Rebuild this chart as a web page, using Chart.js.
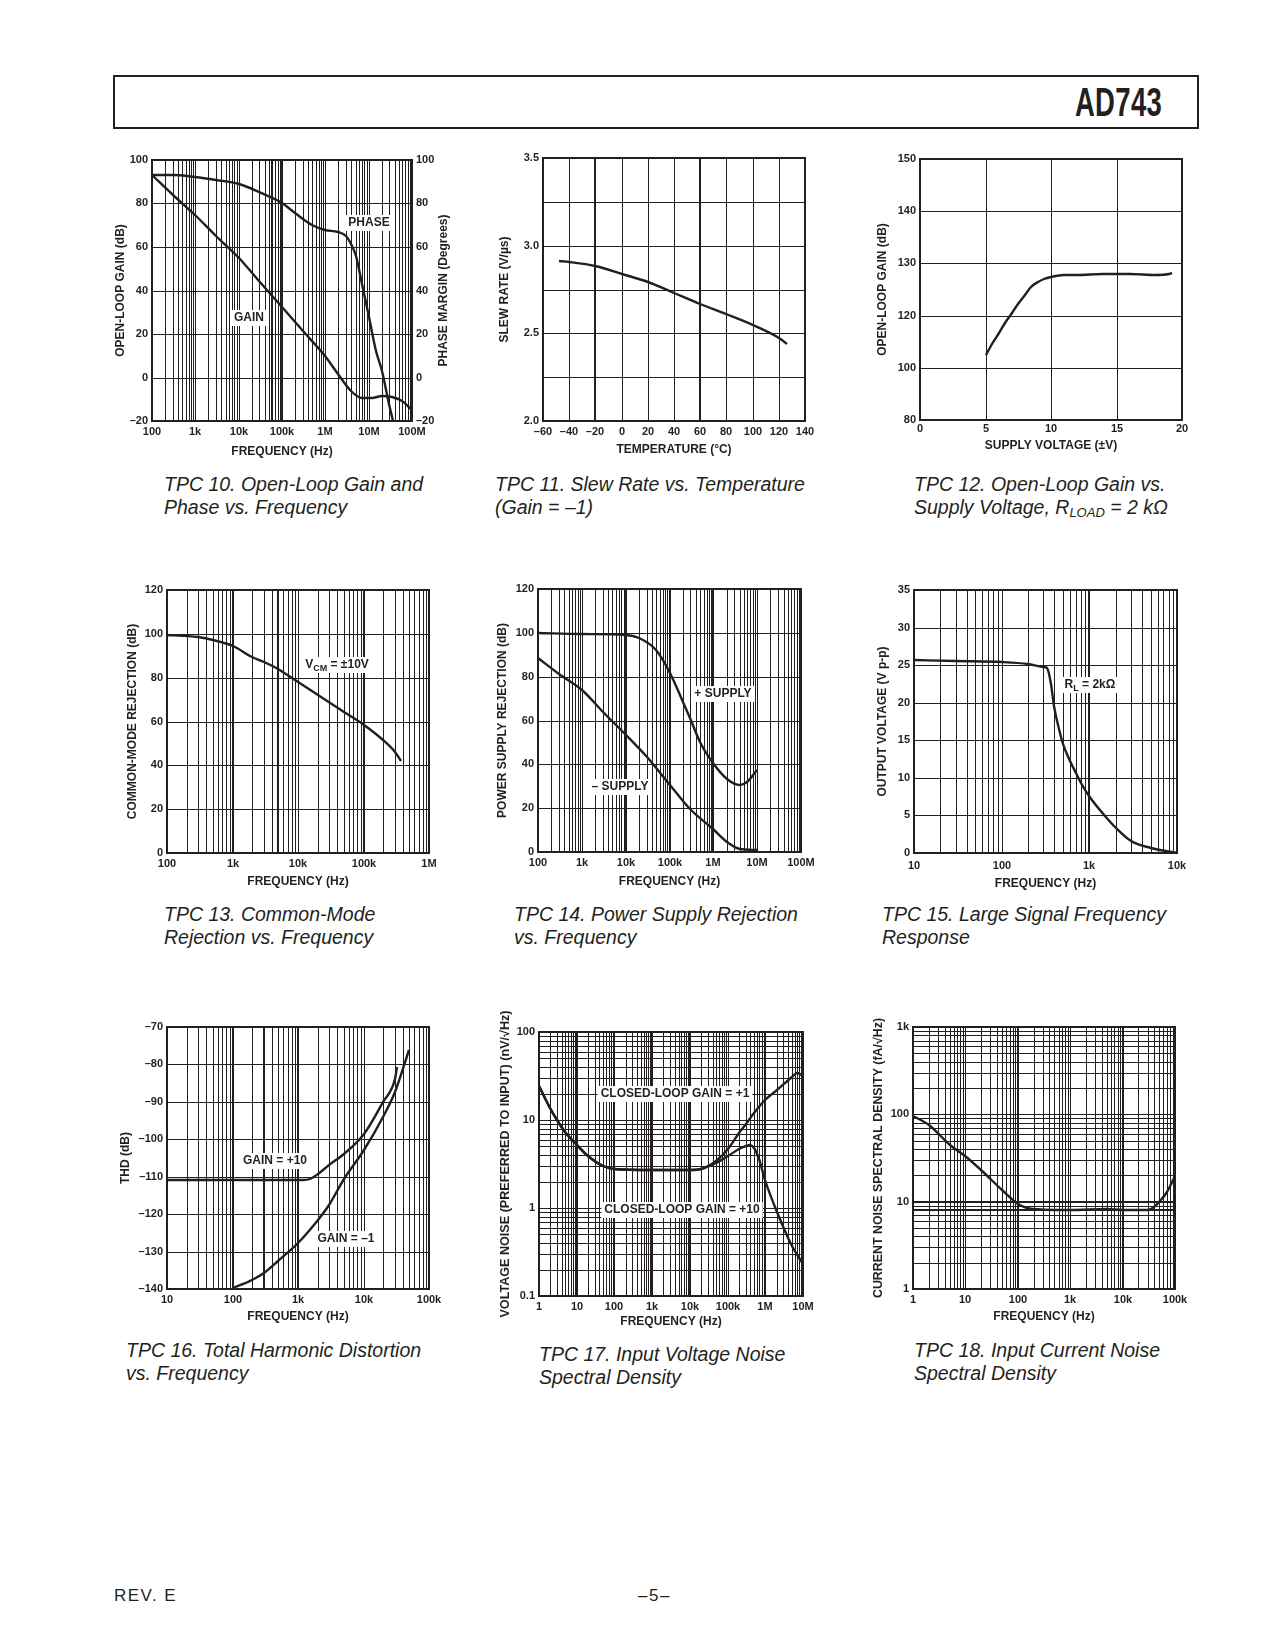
<!DOCTYPE html>
<html><head><meta charset="utf-8">
<script src="https://cdn.jsdelivr.net/npm/chart.js@4.4.1/dist/chart.umd.min.js"></script>
<style>
html,body{margin:0;padding:0;background:#fff}
body{width:1275px;height:1650px;position:relative;font-family:"Liberation Sans",Arial,sans-serif;color:#231f20;overflow:hidden}
.hdr{position:absolute;left:113px;top:75px;width:1086px;height:54px;border:2px solid #231f20;box-sizing:border-box}
.ad{position:absolute;right:113px;top:80px;font-weight:bold;font-size:41px;line-height:44px;transform:scaleX(0.67);transform-origin:right center;letter-spacing:0.5px}
canvas{position:absolute}
.cap{position:absolute;font-style:italic;font-size:19.5px;line-height:23px;white-space:nowrap}
.cap sub{font-size:13px;vertical-align:-3px;line-height:0}
.foot{position:absolute;font-size:17px;letter-spacing:1.5px;line-height:20px;top:1586px}
</style></head>
<body>
<div class="hdr"></div>
<div class="ad">AD743</div>

<div class="cap" style="left:164px;top:473px">TPC 10. Open-Loop Gain and<br>Phase vs. Frequency</div>
<div class="cap" style="left:495px;top:473px">TPC 11. Slew Rate vs. Temperature<br>(Gain = –1)</div>
<div class="cap" style="left:914px;top:473px">TPC 12. Open-Loop Gain vs.<br>Supply Voltage, R<sub>LOAD</sub> = 2 kΩ</div>
<div class="cap" style="left:164px;top:903px">TPC 13. Common-Mode<br>Rejection vs. Frequency</div>
<div class="cap" style="left:514px;top:903px">TPC 14. Power Supply Rejection<br>vs. Frequency</div>
<div class="cap" style="left:882px;top:903px">TPC 15. Large Signal Frequency<br>Response</div>
<div class="cap" style="left:126px;top:1339px">TPC 16. Total Harmonic Distortion<br>vs. Frequency</div>
<div class="cap" style="left:539px;top:1343px">TPC 17. Input Voltage Noise<br>Spectral Density</div>
<div class="cap" style="left:914px;top:1339px">TPC 18. Input Current Noise<br>Spectral Density</div>

<div class="foot" style="left:114px">REV. E</div>
<div class="foot" style="left:638px">–5–</div>

<script>
const INK = '#231f20';
const FONT = '"Liberation Sans", Arial, sans-serif';

// ---------- TPC 10 ----------
const tpc10GainFreq = [100, 300, 1e3, 3e3, 1e4, 3e4, 1e5, 3e5, 1e6, 2e6, 4e6, 7e6, 1.2e7, 2e7, 3.5e7, 6e7, 1e8];
const tpc10Gain     = [93, 84, 74.5, 65, 55, 44.5, 32.5, 21.5, 10, 1.5, -6, -9.3, -9.6, -8.4, -8.8, -11, -15];
const tpc10PhaseFreq = [100, 300, 1e3, 3e3, 1e4, 3e4, 1e5, 2e5, 5e5, 1e6, 2e6, 3e6, 4e6, 5e6, 7e6, 1e7, 1.5e7, 2e7, 3e7, 3.6e7];
const tpc10Phase     = [93, 93, 92, 90.8, 89, 85.5, 80, 75.5, 70, 68, 67, 65, 61.5, 56, 43, 28, 12, 3, -12, -20];
const tpc10XTicks = [100, 1e3, 1e4, 1e5, 1e6, 1e7, 1e8];
const tpc10XTickLabels = ['100', '1k', '10k', '100k', '1M', '10M', '100M'];
const tpc10YTicks = [-20, 0, 20, 40, 60, 80, 100];
const tpc10YTickLabels = ['–20', '0', '20', '40', '60', '80', '100'];
const tpc10Labels = [{pre: 'PHASE', x: 1e7, y: 71}, {pre: 'GAIN', x: 1.7e4, y: 27.5}];
const tpc10RightTitle = 'PHASE MARGIN (Degrees)';

// ---------- TPC 11 ----------
const tpc11Temp = [-48, -40, -20, 0, 20, 40, 60, 80, 100, 120, 126];
const tpc11Slew = [2.915, 2.905, 2.885, 2.84, 2.79, 2.73, 2.67, 2.61, 2.545, 2.475, 2.44];
const tpc11XTicks = [-60, -40, -20, 0, 20, 40, 60, 80, 100, 120, 140];
const tpc11XTickLabels = ['–60', '–40', '–20', '0', '20', '40', '60', '80', '100', '120', '140'];
const tpc11YGrid = [2.0, 2.25, 2.5, 2.75, 3.0, 3.25, 3.5];
const tpc11YTicks = [2.0, 2.5, 3.0, 3.5];
const tpc11YTickLabels = ['2.0', '2.5', '3.0', '3.5'];

// ---------- TPC 12 ----------
const tpc12Supply = [5, 5.5, 6, 6.5, 7, 7.5, 8, 8.5, 9, 9.5, 10, 11, 12, 14, 16, 18, 19, 19.2];
const tpc12Gain   = [105, 109.3, 113.5, 117.3, 120.5, 122.3, 124, 125.5, 126.5, 127.1, 127.4, 127.7, 127.85, 127.9, 127.9, 127.8, 127.9, 128.1];
const tpc12XTicks = [0, 5, 10, 15, 20];
const tpc12XTickLabels = ['0', '5', '10', '15', '20'];
const tpc12YTicks = [80, 100, 120, 130, 140, 150];
const tpc12YTickLabels = ['80', '100', '120', '130', '140', '150'];

// ---------- TPC 13 ----------
const tpc13Freq = [100, 200, 300, 500, 1e3, 2e3, 3e3, 5e3, 1e4, 2e4, 5e4, 1e5, 2e5, 3e5, 3.8e5];
const tpc13Cmr  = [99.5, 99.1, 98.7, 97.3, 94.6, 89.5, 87, 84, 78, 72, 64.5, 58.3, 51.5, 46, 42];
const tpc13XTicks = [100, 1e3, 1e4, 1e5, 1e6];
const tpc13XTickLabels = ['100', '1k', '10k', '100k', '1M'];
const tpc13YTicks = [0, 20, 40, 60, 80, 100, 120];
const tpc13YTickLabels = ['0', '20', '40', '60', '80', '100', '120'];
const tpc13Labels = [{pre: 'V', sub: 'CM', post: ' = ±10V', x: 3.9e4, y: 86}];

// ---------- TPC 14 ----------
const tpc14PlusFreq  = [100, 1e3, 1e4, 2e4, 5e4, 1e5, 2e5, 3e5, 5e5, 1e6, 2e6, 4e6, 6e6, 1e7];
const tpc14Plus      = [99.7, 99.6, 99, 97.5, 92, 81.5, 68.5, 61, 50.3, 40.4, 33.5, 30.5, 32, 37.6];
const tpc14MinusFreq = [100, 300, 1e3, 3e3, 1e4, 3e4, 1e5, 3e5, 1e6, 2e6, 4e6, 1e7];
const tpc14Minus     = [88.3, 81, 73.9, 64, 53.3, 43.4, 30.4, 19.8, 10.6, 4.5, 1.5, 0.8];
const tpc14XTicks = [100, 1e3, 1e4, 1e5, 1e6, 1e7, 1e8];
const tpc14XTickLabels = ['100', '1k', '10k', '100k', '1M', '10M', '100M'];
const tpc14YTicks = [0, 20, 40, 60, 80, 100, 120];
const tpc14YTickLabels = ['0', '20', '40', '60', '80', '100', '120'];
const tpc14Labels = [{pre: '+ SUPPLY', x: 1.64e6, y: 72.3}, {pre: '– SUPPLY', x: 7.6e3, y: 29.7}];

// ---------- TPC 15 ----------
const tpc15Freq = [10, 30, 100, 200, 300, 330, 370, 400, 450, 500, 600, 700, 800, 1e3, 1.5e3, 2e3, 3e3, 5e3, 1e4];
const tpc15Vout = [25.7, 25.6, 25.4, 25.1, 24.8, 24.6, 22.5, 19.5, 16.5, 14.5, 12.2, 10.6, 9.3, 7.6, 4.9, 3.3, 1.6, 0.7, 0.05];
const tpc15XTicks = [10, 100, 1e3, 1e4];
const tpc15XTickLabels = ['10', '100', '1k', '10k'];
const tpc15YTicks = [0, 5, 10, 15, 20, 25, 30, 35];
const tpc15YTickLabels = ['0', '5', '10', '15', '20', '25', '30', '35'];
const tpc15Labels = [{pre: 'R', sub: 'L', post: ' = 2kΩ', x: 1.02e3, y: 22.4}];

// ---------- TPC 16 ----------
const tpc16Plus10Freq = [10, 100, 1e3, 1.2e3, 1.5e3, 2e3, 3e3, 5e3, 1e4, 2e4, 3e4, 3.3e4];
const tpc16Plus10     = [-111, -111, -111, -110.9, -110.5, -109.3, -107, -103.8, -98.6, -90, -84, -80.7];
const tpc16Minus1Freq = [100, 200, 300, 500, 1e3, 2e3, 3e3, 5e3, 1e4, 2e4, 3e4, 5e4];
const tpc16Minus1     = [-139.6, -137.5, -135.7, -132.6, -127.7, -121.5, -117.5, -110.7, -102.8, -94, -87.3, -76.2];
const tpc16XTicks = [10, 100, 1e3, 1e4, 1e5];
const tpc16XTickLabels = ['10', '100', '1k', '10k', '100k'];
const tpc16YTicks = [-140, -130, -120, -110, -100, -90, -80, -70];
const tpc16YTickLabels = ['–140', '–130', '–120', '–110', '–100', '–90', '–80', '–70'];
const tpc16Labels = [{pre: 'GAIN = +10', x: 447, y: -105.7}, {pre: 'GAIN = –1', x: 5.5e3, y: -126.6}];

// ---------- TPC 17 ----------
const tpc17Gain1Freq = [1, 2, 3, 5, 10, 20, 50, 100, 1e3, 1e4, 2e4, 5e4, 1e5, 2e5, 3e5, 5e5, 1e6, 2e6, 5e6, 7e6, 8.5e6, 1e7];
const tpc17Gain1     = [24.5, 13.6, 10, 7.4, 5.2, 3.9, 3.0, 2.75, 2.7, 2.7, 2.8, 3.4, 4.7, 7.2, 9.1, 11.9, 17, 22, 31, 34, 33.5, 31];
const tpc17Gain10Freq = [1, 2, 3, 5, 10, 20, 50, 100, 1e3, 1e4, 2e4, 5e4, 1e5, 2e5, 3e5, 4e5, 5e5, 7e5, 1e6, 2e6, 5e6, 1e7];
const tpc17Gain10     = [24.5, 13.6, 10, 7.4, 5.2, 3.9, 3.0, 2.75, 2.7, 2.7, 2.75, 3.25, 3.9, 4.7, 5.1, 5.15, 4.8, 3.6, 2.1, 0.9, 0.37, 0.23];
const tpc17XTicks = [1, 10, 100, 1e3, 1e4, 1e5, 1e6, 1e7];
const tpc17XTickLabels = ['1', '10', '100', '1k', '10k', '100k', '1M', '10M'];
const tpc17YTicks = [0.1, 1, 10, 100];
const tpc17YTickLabels = ['0.1', '1', '10', '100'];
const tpc17Labels = [{pre: 'CLOSED-LOOP GAIN = +1', x: 4.0e3, y: 19.7}, {pre: 'CLOSED-LOOP GAIN = +10', x: 6.05e3, y: 0.94}];

// ---------- TPC 18 ----------
const tpc18Freq  = [1, 2, 5, 10, 20, 50, 100, 150, 200, 500, 1e3, 5e3, 1e4, 3e4, 4e4, 5e4, 7e4, 1e5];
const tpc18Noise = [96, 76, 45, 33, 23, 13.6, 9.3, 8.5, 8.2, 8.1, 8.1, 8.2, 8.1, 8.1, 8.7, 10, 13, 19.5];
const tpc18XTicks = [1, 10, 100, 1e3, 1e4, 1e5];
const tpc18XTickLabels = ['1', '10', '100', '1k', '10k', '100k'];
const tpc18YTicks = [1, 10, 100, 1e3];
const tpc18YTickLabels = ['1', '10', '100', '1k'];

// ---------- helpers ----------
const near = (a, b) => Math.abs(a - b) <= 1e-9 * Math.max(1, Math.abs(a), Math.abs(b));
function logGrid(min, max) {
  const out = [];
  const e0 = Math.round(Math.log10(min)), e1 = Math.round(Math.log10(max));
  for (let e = e0; e < e1; e++) for (let d = 1; d < 10; d++) out.push(+(d * Math.pow(10, e)).toPrecision(8));
  out.push(max);
  return out;
}

class BrokenLinearScale extends Chart.LinearScale {
  _frac(v) {
    const b = tpc12YTicks, n = b.length - 1;
    if (v <= b[0]) return (v - b[0]) / (b[1] - b[0]) / n;
    if (v >= b[n]) return (n + (v - b[n]) / (b[n] - b[n - 1])) / n;
    for (let i = 0; i < n; i++) if (v <= b[i + 1]) return (i + (v - b[i]) / (b[i + 1] - b[i])) / n;
    return 1;
  }
  getPixelForValue(v) { return this.getPixelForDecimal(this._frac(v)); }
  getValueForPixel(p) {
    const b = tpc12YTicks, n = b.length - 1;
    const t = Math.min(Math.max(this.getDecimalForPixel(p) * n, 0), n);
    const i = Math.min(Math.floor(t), n - 1);
    return b[i] + (t - i) * (b[i + 1] - b[i]);
  }
}
BrokenLinearScale.id = 'brokenLinear';
BrokenLinearScale.defaults = Chart.LinearScale.defaults;
Chart.register(BrokenLinearScale);

function makeAxis(o) {
  const horiz = o.position === 'bottom';
  const thick = o.thick || [];
  return {
    type: o.type || 'linear',
    position: o.position,
    min: o.min, max: o.max,
    alignToPixels: true,
    afterBuildTicks: s => { s.ticks = o.grid.map(v => ({ value: v })); },
    afterFit: s => { if (horiz) s.height = o.size; else s.width = o.size; },
    grid: {
      display: o.gridOn !== false,
      drawOnChartArea: o.gridOn !== false,
      drawTicks: false,
      color: INK,
      lineWidth: c => (c.tick && thick.some(t => near(t, c.tick.value))) ? 2 : 1
    },
    border: { display: false },
    ticks: {
      autoSkip: false, maxRotation: 0, minRotation: 0, padding: o.pad ?? 4, color: INK,
      font: { family: FONT, size: 11, weight: 'bold' },
      callback: v => { const i = o.tickVals.findIndex(t => near(t, v)); return i >= 0 ? o.tickLabels[i] : ''; }
    },
    title: { display: !!o.title, text: o.title || '', color: INK, padding: 0,
      font: { family: FONT, size: o.titleSize || 12, weight: 'bold' } }
  };
}

const framePlugin = {
  id: 'frame',
  beforeDatasetsDraw(chart) {
    const { ctx, chartArea: a } = chart;
    ctx.save(); ctx.strokeStyle = INK; ctx.lineWidth = 2;
    ctx.strokeRect(a.left, a.top, a.right - a.left, a.bottom - a.top);
    ctx.restore();
  }
};

function labelPlugin(items) {
  return {
    id: 'curveLabels',
    afterDatasetsDraw(chart) {
      const ctx = chart.ctx;
      items.forEach(it => {
        const px = chart.scales.x.getPixelForValue(it.x);
        const py = chart.scales.y.getPixelForValue(it.y);
        const parts = [{ t: it.pre }];
        if (it.sub) parts.push({ t: it.sub, sub: true });
        if (it.post) parts.push({ t: it.post });
        ctx.save();
        let w = 0;
        parts.forEach(p => { ctx.font = `bold ${p.sub ? 9 : 12}px ${FONT}`; p.w = ctx.measureText(p.t).width; w += p.w; });
        ctx.fillStyle = '#fff';
        ctx.fillRect(px - w / 2 - 3, py - 8, w + 6, 16);
        ctx.fillStyle = INK; ctx.textBaseline = 'middle'; ctx.textAlign = 'left';
        let x = px - w / 2;
        parts.forEach(p => { ctx.font = `bold ${p.sub ? 9 : 12}px ${FONT}`; ctx.fillText(p.t, x, py + (p.sub ? 3.5 : 0)); x += p.w; });
        ctx.restore();
      });
    }
  };
}

function rightTitlePlugin(text, dist) {
  return {
    id: 'rightTitle',
    afterDraw(chart) {
      const { ctx, chartArea: a } = chart;
      ctx.save();
      ctx.translate(a.right + dist, (a.top + a.bottom) / 2);
      ctx.rotate(-Math.PI / 2);
      ctx.font = `bold 12px ${FONT}`; ctx.fillStyle = INK; ctx.textAlign = 'center'; ctx.textBaseline = 'middle';
      ctx.fillText(text, 0, 0);
      ctx.restore();
    }
  };
}

function series(xs, ys, axisId) {
  return {
    data: xs.map((x, i) => ({ x, y: ys[i] })),
    borderColor: INK, borderWidth: 2.4, pointRadius: 0, fill: false,
    cubicInterpolationMode: 'monotone', yAxisID: axisId || 'y', clip: 2
  };
}

function makeChart(p, datasets, scales, plugins) {
  const c = document.createElement('canvas');
  const W = p.ml + (p.r - p.l) + p.mr;
  const H = p.mt + (p.b - p.t) + p.mb;
  c.width = W; c.height = H;
  c.style.left = (p.l - p.ml) + 'px'; c.style.top = (p.t - p.mt) + 'px';
  c.style.width = W + 'px'; c.style.height = H + 'px';
  document.body.appendChild(c);
  new Chart(c, {
    type: 'line',
    data: { datasets },
    options: {
      responsive: false, animation: false, events: [],
      layout: { padding: { top: p.mt, right: p.padR ?? p.mr, left: 0, bottom: 0 } },
      plugins: { legend: { display: false }, tooltip: { enabled: false } },
      scales
    },
    plugins: [framePlugin].concat(plugins || [])
  });
}

// ---------- TPC 10 ----------
makeChart({ l: 152, t: 160, r: 412, b: 421, ml: 39, mt: 12, mr: 46, padR: 0, mb: 38 },
  [series(tpc10GainFreq, tpc10Gain, 'y'), series(tpc10PhaseFreq, tpc10Phase, 'y2')],
  {
    x: makeAxis({ type: 'logarithmic', position: 'bottom', min: 100, max: 1e8, grid: logGrid(100, 1e8), tickVals: tpc10XTicks, tickLabels: tpc10XTickLabels, thick: [6e4, 1e5], size: 38, title: 'FREQUENCY (Hz)' }),
    y: makeAxis({ position: 'left', min: -20, max: 100, grid: tpc10YTicks, tickVals: tpc10YTicks, tickLabels: tpc10YTickLabels, size: 39, title: 'OPEN-LOOP GAIN (dB)' }),
    y2: makeAxis({ position: 'right', min: -20, max: 100, grid: tpc10YTicks, tickVals: tpc10YTicks, tickLabels: tpc10YTickLabels, size: 46, gridOn: false })
  },
  [labelPlugin(tpc10Labels), rightTitlePlugin(tpc10RightTitle, 32)]);

// ---------- TPC 11 ----------
makeChart({ l: 543, t: 158, r: 805, b: 421, ml: 46, mt: 12, mr: 22, mb: 36 },
  [series(tpc11Temp, tpc11Slew)],
  {
    x: makeAxis({ position: 'bottom', min: -60, max: 140, grid: tpc11XTicks, tickVals: tpc11XTicks, tickLabels: tpc11XTickLabels, thick: [-20, 60], size: 36, title: 'TEMPERATURE (°C)' }),
    y: makeAxis({ position: 'left', min: 2.0, max: 3.5, grid: tpc11YGrid, tickVals: tpc11YTicks, tickLabels: tpc11YTickLabels, size: 46, title: 'SLEW RATE (V/µs)' })
  });

// ---------- TPC 12 ----------
makeChart({ l: 920, t: 159, r: 1182, b: 420, ml: 45, mt: 12, mr: 20, mb: 33 },
  [series(tpc12Supply, tpc12Gain)],
  {
    x: makeAxis({ position: 'bottom', min: 0, max: 20, grid: tpc12XTicks, tickVals: tpc12XTicks, tickLabels: tpc12XTickLabels, size: 33, pad: 2, title: 'SUPPLY VOLTAGE (±V)' }),
    y: Object.assign(makeAxis({ position: 'left', min: 80, max: 150, grid: tpc12YTicks, tickVals: tpc12YTicks, tickLabels: tpc12YTickLabels, size: 45, title: 'OPEN-LOOP GAIN (dB)' }), { type: 'brokenLinear' })
  });

// ---------- TPC 13 ----------
makeChart({ l: 167, t: 590, r: 429, b: 853, ml: 42, mt: 12, mr: 20, mb: 36 },
  [series(tpc13Freq, tpc13Cmr)],
  {
    x: makeAxis({ type: 'logarithmic', position: 'bottom', min: 100, max: 1e6, grid: logGrid(100, 1e6), tickVals: tpc13XTicks, tickLabels: tpc13XTickLabels, thick: [1e3, 5e3, 1e5], size: 36, title: 'FREQUENCY (Hz)' }),
    y: makeAxis({ position: 'left', min: 0, max: 120, grid: tpc13YTicks, tickVals: tpc13YTicks, tickLabels: tpc13YTickLabels, size: 42, title: 'COMMON-MODE REJECTION (dB)' })
  },
  [labelPlugin(tpc13Labels)]);

// ---------- TPC 14 ----------
makeChart({ l: 538, t: 589, r: 801, b: 852, ml: 43, mt: 12, mr: 22, mb: 37 },
  [series(tpc14PlusFreq, tpc14Plus), series(tpc14MinusFreq, tpc14Minus)],
  {
    x: makeAxis({ type: 'logarithmic', position: 'bottom', min: 100, max: 1e8, grid: logGrid(100, 1e8), tickVals: tpc14XTicks, tickLabels: tpc14XTickLabels, thick: [1e4, 1e5, 1e6], size: 37, title: 'FREQUENCY (Hz)' }),
    y: makeAxis({ position: 'left', min: 0, max: 120, grid: tpc14YTicks, tickVals: tpc14YTicks, tickLabels: tpc14YTickLabels, size: 43, title: 'POWER SUPPLY REJECTION (dB)' })
  },
  [labelPlugin(tpc14Labels)]);

// ---------- TPC 15 ----------
makeChart({ l: 914, t: 590, r: 1177, b: 853, ml: 39, mt: 12, mr: 20, mb: 38 },
  [series(tpc15Freq, tpc15Vout)],
  {
    x: makeAxis({ type: 'logarithmic', position: 'bottom', min: 10, max: 1e4, grid: logGrid(10, 1e4), tickVals: tpc15XTicks, tickLabels: tpc15XTickLabels, thick: [1e3], size: 38, pad: 6, title: 'FREQUENCY (Hz)' }),
    y: makeAxis({ position: 'left', min: 0, max: 35, grid: tpc15YTicks, tickVals: tpc15YTicks, tickLabels: tpc15YTickLabels, size: 39, title: 'OUTPUT VOLTAGE (V p-p)' })
  },
  [labelPlugin(tpc15Labels)]);

// ---------- TPC 16 ----------
makeChart({ l: 167, t: 1027, r: 429, b: 1289, ml: 49, mt: 12, mr: 22, mb: 35 },
  [series(tpc16Plus10Freq, tpc16Plus10), series(tpc16Minus1Freq, tpc16Minus1)],
  {
    x: makeAxis({ type: 'logarithmic', position: 'bottom', min: 10, max: 1e5, grid: logGrid(10, 1e5), tickVals: tpc16XTicks, tickLabels: tpc16XTickLabels, thick: [100, 300, 1e3], size: 35, title: 'FREQUENCY (Hz)' }),
    y: makeAxis({ position: 'left', min: -140, max: -70, grid: tpc16YTicks, tickVals: tpc16YTicks, tickLabels: tpc16YTickLabels, size: 49, title: 'THD (dB)' })
  },
  [labelPlugin(tpc16Labels)]);

// ---------- TPC 17 ----------
makeChart({ l: 539, t: 1032, r: 803, b: 1296, ml: 41, mt: 40, mr: 16, mb: 33 },
  [series(tpc17Gain1Freq, tpc17Gain1), series(tpc17Gain10Freq, tpc17Gain10)],
  {
    x: makeAxis({ type: 'logarithmic', position: 'bottom', min: 1, max: 1e7, grid: logGrid(1, 1e7), tickVals: tpc17XTicks, tickLabels: tpc17XTickLabels, thick: [10, 1e3, 1e4], size: 33, title: 'FREQUENCY (Hz)' }),
    y: makeAxis({ type: 'logarithmic', position: 'left', min: 0.1, max: 100, grid: logGrid(0.1, 100), tickVals: tpc17YTicks, tickLabels: tpc17YTickLabels, size: 41, titleSize: 12.6, title: 'VOLTAGE NOISE (PREFERRED TO INPUT) (nV/√Hz)' })
  },
  [labelPlugin(tpc17Labels)]);

// ---------- TPC 18 ----------
makeChart({ l: 913, t: 1027, r: 1175, b: 1289, ml: 42, mt: 30, mr: 22, mb: 35 },
  [series(tpc18Freq, tpc18Noise)],
  {
    x: makeAxis({ type: 'logarithmic', position: 'bottom', min: 1, max: 1e5, grid: logGrid(1, 1e5), tickVals: tpc18XTicks, tickLabels: tpc18XTickLabels, thick: [100, 1e4], size: 35, title: 'FREQUENCY (Hz)' }),
    y: makeAxis({ type: 'logarithmic', position: 'left', min: 1, max: 1e3, grid: logGrid(1, 1e3), tickVals: tpc18YTicks, tickLabels: tpc18YTickLabels, thick: [8, 10], size: 42, titleSize: 12.4, title: 'CURRENT NOISE SPECTRAL DENSITY (fA/√Hz)' })
  });
</script>
</body></html>
